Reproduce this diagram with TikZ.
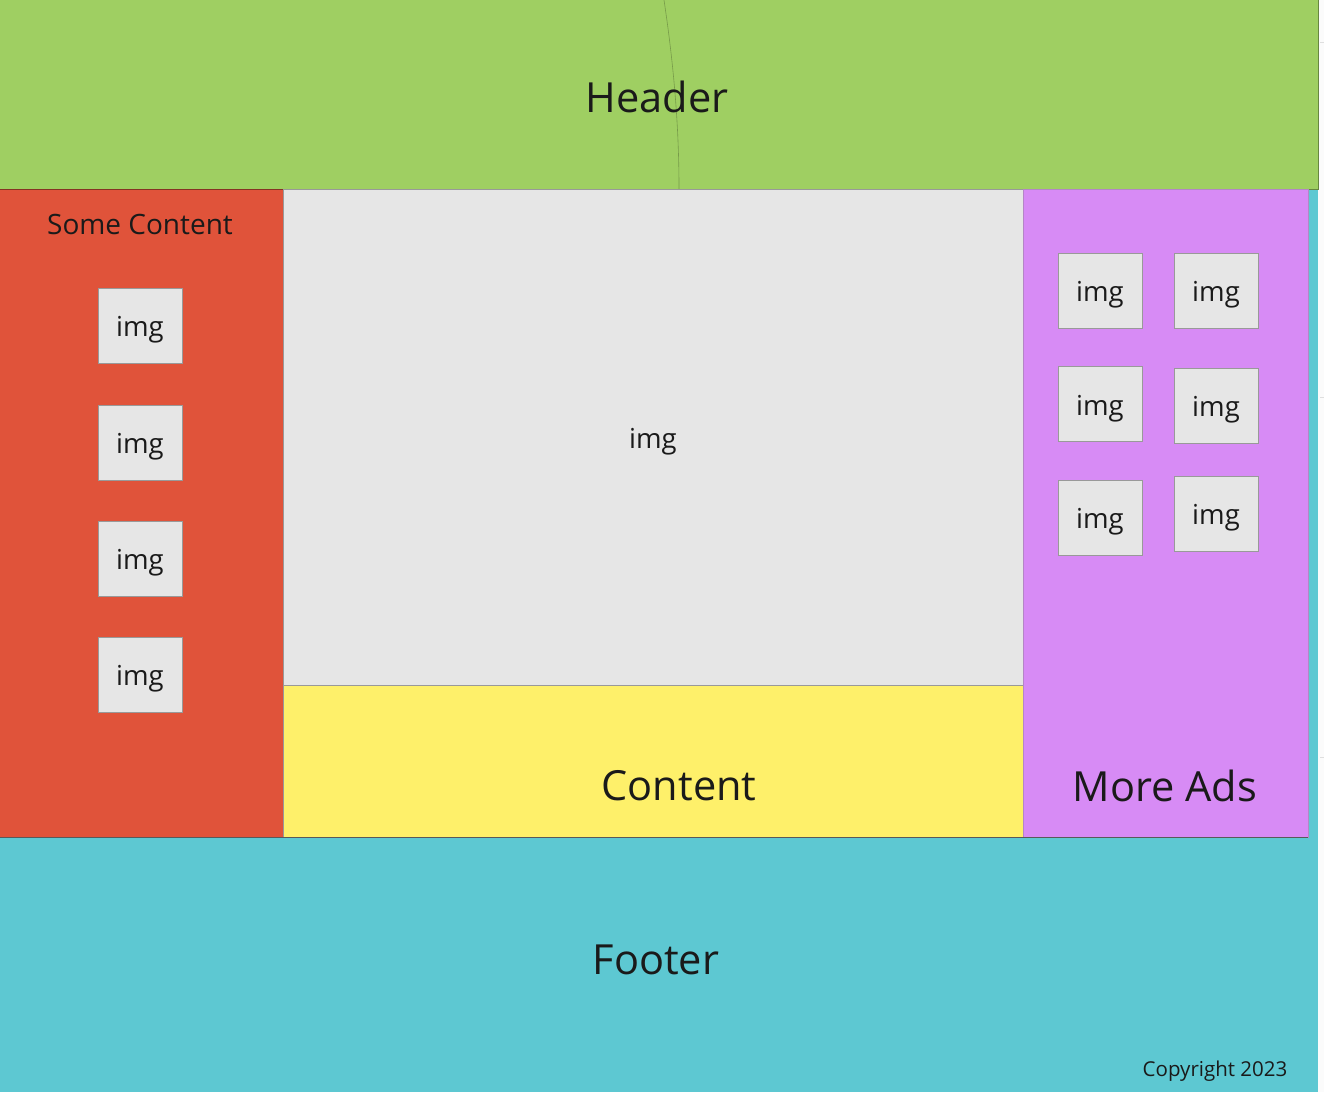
\documentclass[tikz,border=0pt]{standalone}
\usepackage{fontspec}
\setmainfont{Open Sans}
\newcommand{\imgtext}{\raisebox{-11pt}[0pt][0pt]{img}}
\begin{document}
\begin{tikzpicture}[x=1pt,y=-1pt,
  imgbox/.style={draw=gray!80, fill=boxgray, line width=0.7pt, minimum width=84pt, minimum height=75pt, inner sep=0pt,
     font=\fontsize{27.5}{32}\selectfont, text=ink},
  big/.style={font=\fontsize{41.5}{50}\selectfont, text=ink},
  mid/.style={font=\fontsize{28}{33}\selectfont, text=ink},
]
\definecolor{headgreen}{HTML}{9FCF62}
\definecolor{sidered}{HTML}{E0533A}
\definecolor{boxgray}{HTML}{E6E6E6}
\definecolor{contyellow}{HTML}{FEF06A}
\definecolor{adpurple}{HTML}{D78BF5}
\definecolor{footcyan}{HTML}{5DC8D2}
\definecolor{ink}{HTML}{1A1A1A}

\useasboundingbox (0,0) rectangle (1324,1092);
\fill[white!97!gray] (0,0) rectangle (1324,1092);
\foreach \yy in {42,397,757} \draw[gray!25, line width=0.8pt] (1320,\yy) -- (1324,\yy);

% footer band (also shows as a strip at the right of the ads column)
\path[fill=footcyan] (0,189) rectangle (1318,1092);
\node[big] (footer) at (656,960) {Footer};
\node[font=\fontsize{20.5}{24}\selectfont, text=ink] (copy) at (1215,1071.5) {Copyright 2023};

% header
\path[fill=headgreen, draw=headgreen!65!black, line width=0.8pt] (-1,-1) rectangle (1318,189);
\draw[headgreen!75!black, line width=0.6pt] (664,0) .. controls (676,80) and (679,140) .. (679,189);
\node[big] (header) at (657,97) {Header};

% left column
\path[fill=sidered, draw=sidered!60!black, line width=0.8pt] (-1,189) rectangle (283,837);
\node[mid] (some) at (140,224) {Some Content};
\node[imgbox] (l1) at (140,325.5) {\imgtext};
\node[imgbox] (l2) at (140,442.5) {\imgtext};
\node[imgbox] (l3) at (140,558.5) {\imgtext};
\node[imgbox] (l4) at (140,674.5) {\imgtext};

% main content
\path[fill=boxgray, draw=gray!80, line width=0.7pt] (283,189) rectangle (1023,685);
\node[font=\fontsize{27.5}{32}\selectfont, text=ink, inner sep=0pt] (mainimg) at (653,437) {\imgtext};
\path[fill=contyellow, draw=gray!80, line width=0.7pt] (283,685) rectangle (1023,837);
\node[big] (content) at (679,786) {Content};

% right column
\path[fill=adpurple, draw=adpurple!60!gray, line width=0.8pt] (1023,189) rectangle (1308,837);
\node[big] (ads) at (1165,786) {More Ads};
\node[imgbox] (r11) at (1100,290.5) {\imgtext};
\node[imgbox] (r12) at (1216,290.5) {\imgtext};
\node[imgbox] (r21) at (1100,404) {\imgtext};
\node[imgbox] (r22) at (1216,405.5) {\imgtext};
\node[imgbox] (r31) at (1100,517.5) {\imgtext};
\node[imgbox] (r32) at (1216,513.5) {\imgtext};

% dividing line above the footer
\draw[gray!70!black, line width=0.7pt] (0,837) -- (1308,837);
\end{tikzpicture}
\end{document}
